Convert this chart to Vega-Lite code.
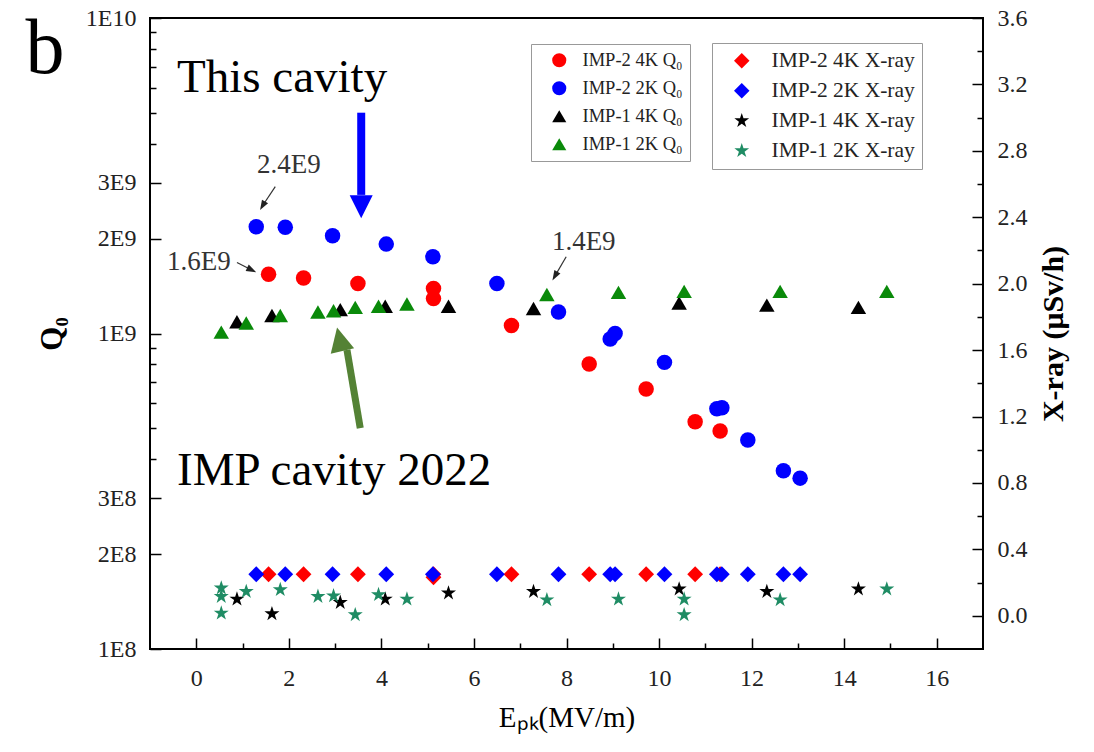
{
  "$schema": "https://vega.github.io/schema/vega-lite/v6.json",
  "width": 833,
  "height": 631,
  "autosize": "none",
  "padding": {"left": 150, "top": 18, "right": 111, "bottom": 103},
  "background": "white",
  "datasets": {
    "q0": [
      {"series": "IMP-2 4K Q₀", "E": 1.562, "Q": 1.54e9},
      {"series": "IMP-2 4K Q₀", "E": 2.318, "Q": 1.50e9},
      {"series": "IMP-2 4K Q₀", "E": 3.493, "Q": 1.44e9},
      {"series": "IMP-2 4K Q₀", "E": 5.126, "Q": 1.39e9},
      {"series": "IMP-2 4K Q₀", "E": 5.126, "Q": 1.29e9},
      {"series": "IMP-2 4K Q₀", "E": 6.811, "Q": 1.06e9},
      {"series": "IMP-2 4K Q₀", "E": 8.49, "Q": 8.00e8},
      {"series": "IMP-2 4K Q₀", "E": 9.721, "Q": 6.67e8},
      {"series": "IMP-2 4K Q₀", "E": 10.78, "Q": 5.25e8},
      {"series": "IMP-2 4K Q₀", "E": 11.32, "Q": 4.91e8},
      {"series": "IMP-2 2K Q₀", "E": 1.296, "Q": 2.18e9},
      {"series": "IMP-2 2K Q₀", "E": 1.923, "Q": 2.17e9},
      {"series": "IMP-2 2K Q₀", "E": 2.945, "Q": 2.04e9},
      {"series": "IMP-2 2K Q₀", "E": 4.105, "Q": 1.92e9},
      {"series": "IMP-2 2K Q₀", "E": 5.113, "Q": 1.75e9},
      {"series": "IMP-2 2K Q₀", "E": 6.496, "Q": 1.44e9},
      {"series": "IMP-2 2K Q₀", "E": 7.827, "Q": 1.17e9},
      {"series": "IMP-2 2K Q₀", "E": 9.05, "Q": 1.00e9},
      {"series": "IMP-2 2K Q₀", "E": 8.944, "Q": 9.61e8},
      {"series": "IMP-2 2K Q₀", "E": 10.117, "Q": 8.10e8},
      {"series": "IMP-2 2K Q₀", "E": 11.249, "Q": 5.77e8},
      {"series": "IMP-2 2K Q₀", "E": 11.357, "Q": 5.82e8},
      {"series": "IMP-2 2K Q₀", "E": 11.918, "Q": 4.60e8},
      {"series": "IMP-2 2K Q₀", "E": 12.687, "Q": 3.67e8},
      {"series": "IMP-2 2K Q₀", "E": 13.048, "Q": 3.48e8},
      {"series": "IMP-1 4K Q₀", "E": 0.879, "Q": 1.09e9},
      {"series": "IMP-1 4K Q₀", "E": 1.635, "Q": 1.14e9},
      {"series": "IMP-1 4K Q₀", "E": 3.111, "Q": 1.19e9},
      {"series": "IMP-1 4K Q₀", "E": 4.083, "Q": 1.22e9},
      {"series": "IMP-1 4K Q₀", "E": 5.45, "Q": 1.22e9},
      {"series": "IMP-1 4K Q₀", "E": 7.287, "Q": 1.20e9},
      {"series": "IMP-1 4K Q₀", "E": 10.434, "Q": 1.25e9},
      {"series": "IMP-1 4K Q₀", "E": 12.329, "Q": 1.23e9},
      {"series": "IMP-1 4K Q₀", "E": 14.308, "Q": 1.21e9},
      {"series": "IMP-1 2K Q₀", "E": 0.54, "Q": 1.01e9},
      {"series": "IMP-1 2K Q₀", "E": 1.08, "Q": 1.08e9},
      {"series": "IMP-1 2K Q₀", "E": 1.815, "Q": 1.14e9},
      {"series": "IMP-1 2K Q₀", "E": 2.629, "Q": 1.17e9},
      {"series": "IMP-1 2K Q₀", "E": 2.966, "Q": 1.18e9},
      {"series": "IMP-1 2K Q₀", "E": 3.435, "Q": 1.21e9},
      {"series": "IMP-1 2K Q₀", "E": 3.938, "Q": 1.22e9},
      {"series": "IMP-1 2K Q₀", "E": 4.552, "Q": 1.24e9},
      {"series": "IMP-1 2K Q₀", "E": 7.576, "Q": 1.33e9},
      {"series": "IMP-1 2K Q₀", "E": 9.123, "Q": 1.35e9},
      {"series": "IMP-1 2K Q₀", "E": 10.542, "Q": 1.36e9},
      {"series": "IMP-1 2K Q₀", "E": 12.616, "Q": 1.36e9},
      {"series": "IMP-1 2K Q₀", "E": 14.921, "Q": 1.36e9}
    ],
    "xray": [
      {"series": "IMP-2 4K X-ray", "E": 1.562, "X": 0.25},
      {"series": "IMP-2 4K X-ray", "E": 2.318, "X": 0.25},
      {"series": "IMP-2 4K X-ray", "E": 3.493, "X": 0.25},
      {"series": "IMP-2 4K X-ray", "E": 5.126, "X": 0.25},
      {"series": "IMP-2 4K X-ray", "E": 5.126, "X": 0.232},
      {"series": "IMP-2 4K X-ray", "E": 6.811, "X": 0.25},
      {"series": "IMP-2 4K X-ray", "E": 8.49, "X": 0.25},
      {"series": "IMP-2 4K X-ray", "E": 9.721, "X": 0.25},
      {"series": "IMP-2 4K X-ray", "E": 10.78, "X": 0.25},
      {"series": "IMP-2 4K X-ray", "E": 11.32, "X": 0.25},
      {"series": "IMP-2 2K X-ray", "E": 1.296, "X": 0.25},
      {"series": "IMP-2 2K X-ray", "E": 1.923, "X": 0.25},
      {"series": "IMP-2 2K X-ray", "E": 2.945, "X": 0.25},
      {"series": "IMP-2 2K X-ray", "E": 4.105, "X": 0.25},
      {"series": "IMP-2 2K X-ray", "E": 5.113, "X": 0.25},
      {"series": "IMP-2 2K X-ray", "E": 6.496, "X": 0.25},
      {"series": "IMP-2 2K X-ray", "E": 7.827, "X": 0.25},
      {"series": "IMP-2 2K X-ray", "E": 9.05, "X": 0.25},
      {"series": "IMP-2 2K X-ray", "E": 8.944, "X": 0.25},
      {"series": "IMP-2 2K X-ray", "E": 10.117, "X": 0.25},
      {"series": "IMP-2 2K X-ray", "E": 11.249, "X": 0.25},
      {"series": "IMP-2 2K X-ray", "E": 11.357, "X": 0.25},
      {"series": "IMP-2 2K X-ray", "E": 11.918, "X": 0.25},
      {"series": "IMP-2 2K X-ray", "E": 12.687, "X": 0.25},
      {"series": "IMP-2 2K X-ray", "E": 13.048, "X": 0.25},
      {"series": "IMP-1 4K X-ray", "E": 0.879, "X": 0.10},
      {"series": "IMP-1 4K X-ray", "E": 1.635, "X": 0.012},
      {"series": "IMP-1 4K X-ray", "E": 3.111, "X": 0.08},
      {"series": "IMP-1 4K X-ray", "E": 4.083, "X": 0.10},
      {"series": "IMP-1 4K X-ray", "E": 5.45, "X": 0.137},
      {"series": "IMP-1 4K X-ray", "E": 7.287, "X": 0.146},
      {"series": "IMP-1 4K X-ray", "E": 10.434, "X": 0.161},
      {"series": "IMP-1 4K X-ray", "E": 12.329, "X": 0.146},
      {"series": "IMP-1 4K X-ray", "E": 14.308, "X": 0.161},
      {"series": "IMP-1 2K X-ray", "E": 0.54, "X": 0.167},
      {"series": "IMP-1 2K X-ray", "E": 0.54, "X": 0.116},
      {"series": "IMP-1 2K X-ray", "E": 0.54, "X": 0.016},
      {"series": "IMP-1 2K X-ray", "E": 1.08, "X": 0.146},
      {"series": "IMP-1 2K X-ray", "E": 1.815, "X": 0.157},
      {"series": "IMP-1 2K X-ray", "E": 2.629, "X": 0.116},
      {"series": "IMP-1 2K X-ray", "E": 2.966, "X": 0.12},
      {"series": "IMP-1 2K X-ray", "E": 3.435, "X": 0.006},
      {"series": "IMP-1 2K X-ray", "E": 3.938, "X": 0.127},
      {"series": "IMP-1 2K X-ray", "E": 4.552, "X": 0.10},
      {"series": "IMP-1 2K X-ray", "E": 7.576, "X": 0.096},
      {"series": "IMP-1 2K X-ray", "E": 9.123, "X": 0.10},
      {"series": "IMP-1 2K X-ray", "E": 10.542, "X": 0.10},
      {"series": "IMP-1 2K X-ray", "E": 10.542, "X": 0.006},
      {"series": "IMP-1 2K X-ray", "E": 12.616, "X": 0.096},
      {"series": "IMP-1 2K X-ray", "E": 14.921, "X": 0.161}
    ],
    "panelLabel": [{"label": "b", "E": -3.69, "Q": 6.69e9}],
    "bigText": [
      {"label": "This cavity", "E": -0.417, "Q": 5.84e9},
      {"label": "IMP cavity 2022", "E": -0.417, "Q": 3.31e8}
    ],
    "smallText": [
      {"label": "2.4E9", "E": 1.311, "Q": 3.22e9},
      {"label": "1.6E9", "E": -0.63, "Q": 1.59e9},
      {"label": "1.4E9", "E": 7.684, "Q": 1.84e9}
    ],
    "smallShafts": [
      {"E": 1.707, "Q": 2.92e9, "E2": 1.432, "Q2": 2.54e9},
      {"E": 0.879, "Q": 1.68e9, "E2": 1.197, "Q2": 1.59e9},
      {"E": 7.993, "Q": 1.75e9, "E2": 7.749, "Q2": 1.52e9}
    ],
    "headA": [{"E": 1.432, "Q": 2.54e9}],
    "headB": [{"E": 1.197, "Q": 1.59e9}],
    "headC": [{"E": 7.749, "Q": 1.52e9}],
    "blueShaft": [{"E": 3.564, "Q": 5.01e9, "E2": 3.564, "Q2": 2.75e9}],
    "blueHead": [{"E": 3.564, "Q": 2.52e9}],
    "greenShaft": [{"E": 3.543, "Q": 5.01e8, "E2": 3.256, "Q2": 8.87e8}],
    "greenHead": [{"E": 3.1, "Q": 9.59e8}]
  },
  "encoding": {
    "x": {
      "field": "E", "type": "quantitative",
      "scale": {"domain": [-1, 17], "nice": false, "zero": false},
      "axis": {
        "values": [0, 1, 2, 3, 4, 5, 6, 7, 8, 9, 10, 11, 12, 13, 14, 15, 16],
        "title": "Eₚₖ(MV/m)",
        "labelExpr": "datum.value % 2 == 0 ? datum.label : ''",
        "tickSize": {"condition": {"test": "datum.value % 2 == 0", "value": -11}, "value": -6},
        "labelPadding": 28,
        "labelFontSize": 24,
        "titleFontSize": 29,
        "titleFontWeight": "normal",
        "titlePadding": 8,
        "labelOverlap": false,
        "labelFlush": false
      }
    }
  },
  "layer": [
    {
      "encoding": {
        "y": {
          "field": "Q", "type": "quantitative",
          "scale": {"type": "log", "domain": [1e8, 1e10], "nice": false},
          "axis": {
            "values": [1e8, 2e8, 3e8, 4e8, 5e8, 6e8, 7e8, 8e8, 9e8, 1e9, 2e9, 3e9, 4e9, 5e9, 6e9, 7e9, 8e9, 9e9, 1e10],
            "title": "Q₀",
            "titleFontWeight": "bold",
            "titleFontSize": 31,
            "titlePadding": 17,
            "labelExpr": "datum.value / pow(10, floor(log(datum.value) / LN10 + 1e-6)) < 3.5 ? replace(format(datum.value, '.0e'), 'e+', 'E') : ''",
            "tickSize": {"condition": {"test": "datum.value / pow(10, floor(log(datum.value) / LN10 + 1e-6)) < 3.5", "value": -11}, "value": -6},
            "labelPadding": 25,
            "labelFontSize": 24,
            "labelOverlap": false,
            "labelFlush": false
          }
        }
      },
      "layer": [
        {
          "data": {"name": "q0"},
          "mark": {"type": "point", "filled": true, "opacity": 1, "size": 240, "strokeWidth": 0},
          "encoding": {
            "color": {
              "field": "series", "type": "nominal",
              "scale": {"domain": ["IMP-2 4K Q₀", "IMP-2 2K Q₀", "IMP-1 4K Q₀", "IMP-1 2K Q₀"], "range": ["#ff0000", "#0000ff", "#000000", "#0a8a0a"]},
              "legend": {"orient": "none", "legendX": 381, "legendY": 26, "title": null, "strokeColor": "#999", "fillColor": "white", "padding": 7, "labelFont": "Liberation Serif", "labelFontSize": 18.5, "labelColor": "#222", "symbolSize": 200, "symbolOffset": 12, "labelOffset": 14, "rowPadding": 9, "symbolStrokeWidth": 0}
            },
            "shape": {
              "field": "series", "type": "nominal",
              "scale": {"domain": ["IMP-2 4K Q₀", "IMP-2 2K Q₀", "IMP-1 4K Q₀", "IMP-1 2K Q₀"], "range": ["circle", "circle", "triangle-up", "triangle-up"]},
              "legend": {"orient": "none", "legendX": 381, "legendY": 26, "title": null, "strokeColor": "#999", "fillColor": "white", "padding": 7, "labelFont": "Liberation Serif", "labelFontSize": 18.5, "labelColor": "#222", "symbolSize": 200, "symbolOffset": 12, "labelOffset": 14, "rowPadding": 9, "symbolStrokeWidth": 0}
            }
          }
        },
        {
          "data": {"name": "panelLabel"},
          "mark": {"type": "text", "align": "left", "baseline": "alphabetic", "font": "Liberation Serif", "fontSize": 78, "color": "#000"},
          "encoding": {"text": {"field": "label"}}
        },
        {
          "data": {"name": "bigText"},
          "mark": {"type": "text", "align": "left", "baseline": "alphabetic", "font": "Liberation Serif", "fontSize": 47, "color": "#000"},
          "encoding": {"text": {"field": "label"}}
        },
        {
          "data": {"name": "smallText"},
          "mark": {"type": "text", "align": "left", "baseline": "alphabetic", "font": "Liberation Serif", "fontSize": 27, "color": "#333"},
          "encoding": {"text": {"field": "label"}}
        },
        {
          "data": {"name": "smallShafts"},
          "mark": {"type": "rule", "color": "#333", "strokeWidth": 1.2},
          "encoding": {"x2": {"field": "E2"}, "y2": {"field": "Q2"}}
        },
        {
          "data": {"name": "headA"},
          "mark": {"type": "point", "filled": true, "opacity": 1, "color": "#222", "shape": "M-0.7,-1L0.7,-1L0,1Z", "size": 100, "angle": 30}
        },
        {
          "data": {"name": "headB"},
          "mark": {"type": "point", "filled": true, "opacity": 1, "color": "#222", "shape": "M-0.7,-1L0.7,-1L0,1Z", "size": 100, "angle": 296}
        },
        {
          "data": {"name": "headC"},
          "mark": {"type": "point", "filled": true, "opacity": 1, "color": "#222", "shape": "M-0.7,-1L0.7,-1L0,1Z", "size": 100, "angle": 30}
        },
        {
          "data": {"name": "blueShaft"},
          "mark": {"type": "rule", "color": "#0000ff", "strokeWidth": 8, "strokeCap": "butt"},
          "encoding": {"x2": {"field": "E2"}, "y2": {"field": "Q2"}}
        },
        {
          "data": {"name": "blueHead"},
          "mark": {"type": "point", "filled": true, "opacity": 1, "color": "#0000ff", "shape": "M-1,-1L1,-1L0,1Z", "size": 529}
        },
        {
          "data": {"name": "greenShaft"},
          "mark": {"type": "rule", "color": "#548235", "strokeWidth": 7, "strokeCap": "butt"},
          "encoding": {"x2": {"field": "E2"}, "y2": {"field": "Q2"}}
        },
        {
          "data": {"name": "greenHead"},
          "mark": {"type": "point", "filled": true, "opacity": 1, "color": "#548235", "shape": "M-1,1L1,1L0,-1Z", "size": 576, "angle": -13}
        }
      ]
    },
    {
      "encoding": {
        "y": {
          "field": "X", "type": "quantitative",
          "scale": {"domain": [-0.2, 3.6], "nice": false, "zero": false},
          "axis": {
            "orient": "right",
            "values": [0, 0.2, 0.4, 0.6, 0.8, 1, 1.2, 1.4, 1.6, 1.8, 2, 2.2, 2.4, 2.6, 2.8, 3, 3.2, 3.4, 3.6],
            "title": "X-ray (μSv/h)",
            "titleAngle": 270,
            "titleBaseline": "top",
            "titleFontWeight": "bold",
            "titleFontSize": 30,
            "titlePadding": 11,
            "labelExpr": "round(datum.value * 10) % 4 == 0 ? format(datum.value, '.1f') : ''",
            "tickSize": {"condition": {"test": "round(datum.value * 10) % 4 == 0", "value": -11}, "value": -6},
            "labelPadding": 25,
            "labelFontSize": 24,
            "labelOverlap": false,
            "labelFlush": false
          }
        }
      },
      "layer": [
        {
          "data": {"name": "xray"},
          "mark": {"type": "point", "filled": true, "opacity": 1, "size": 250, "strokeWidth": 0},
          "encoding": {
            "color": {
              "field": "series", "type": "nominal",
              "scale": {"domain": ["IMP-2 4K X-ray", "IMP-2 2K X-ray", "IMP-1 4K X-ray", "IMP-1 2K X-ray"], "range": ["#ff0000", "#0000ff", "#000000", "#1f8c64"]},
              "legend": {"orient": "none", "legendX": 562, "legendY": 25, "title": null, "strokeColor": "#999", "fillColor": "white", "padding": 7, "labelFont": "Liberation Serif", "labelFontSize": 21.5, "labelColor": "#222", "symbolSize": 240, "symbolOffset": 12, "labelOffset": 19, "rowPadding": 7, "symbolStrokeWidth": 0}
            },
            "shape": {
              "field": "series", "type": "nominal",
              "scale": {"domain": ["IMP-2 4K X-ray", "IMP-2 2K X-ray", "IMP-1 4K X-ray", "IMP-1 2K X-ray"], "range": ["diamond", "diamond", "M0,-1L0.2245,-0.309L0.951,-0.309L0.363,0.118L0.588,0.809L0,0.382L-0.588,0.809L-0.363,0.118L-0.951,-0.309L-0.2245,-0.309Z", "M0,-1L0.2245,-0.309L0.951,-0.309L0.363,0.118L0.588,0.809L0,0.382L-0.588,0.809L-0.363,0.118L-0.951,-0.309L-0.2245,-0.309Z"]},
              "legend": {"orient": "none", "legendX": 562, "legendY": 25, "title": null, "strokeColor": "#999", "fillColor": "white", "padding": 7, "labelFont": "Liberation Serif", "labelFontSize": 21.5, "labelColor": "#222", "symbolSize": 240, "symbolOffset": 12, "labelOffset": 19, "rowPadding": 7, "symbolStrokeWidth": 0}
            }
          }
        }
      ]
    }
  ],
  "resolve": {"scale": {"y": "independent", "color": "independent", "shape": "independent"}},
  "config": {
    "font": "Liberation Serif",
    "view": {"stroke": "#000", "strokeWidth": 2},
    "axis": {"labelFont": "Liberation Serif", "labelColor": "#222", "titleFont": "Liberation Serif", "titleColor": "#000", "tickColor": "#000", "tickWidth": 1.5, "domain": false, "grid": false}
  }
}
